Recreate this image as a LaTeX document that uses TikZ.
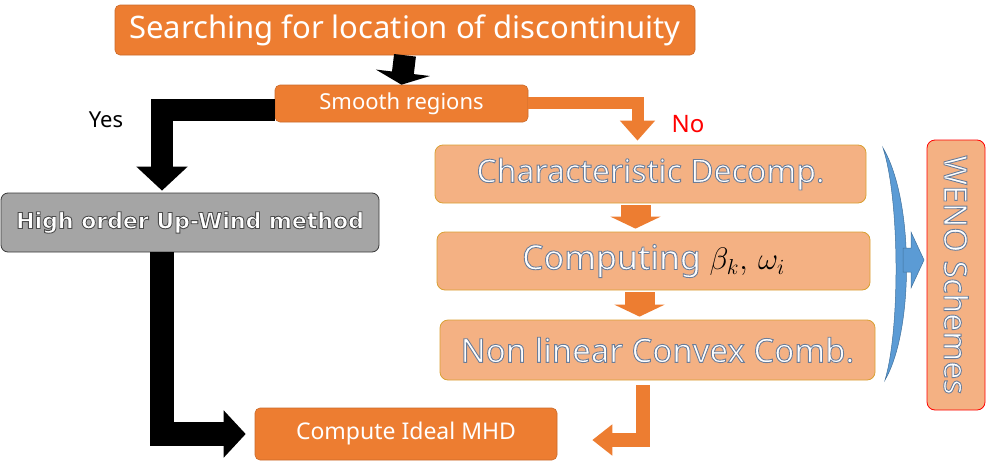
\documentclass[tikz,border=0pt]{standalone}
\usepackage{fontspec}
\setmainfont{Noto Sans}
\newfontfamily\hifont{DejaVu Sans}
\usetikzlibrary{arrows.meta,calc}
\definecolor{dkorange}{HTML}{ED7D31}
\definecolor{ltorange}{HTML}{F4B183}
\definecolor{goldline}{HTML}{D9A033}
\definecolor{grayfill}{HTML}{A5A5A5}
\definecolor{grayline}{HTML}{3A3A3A}
\definecolor{blueA}{HTML}{5B9BD5}
\definecolor{blueB}{HTML}{41719C}
\definecolor{nored}{HTML}{FF0000}
\newcommand{\ol}[1]{\special{pdf:literal direct 0.42 0.49 0.60 RG 0.9 w 2 Tr}#1\special{pdf:literal direct 0 Tr}}
\newcommand{\olg}[1]{\special{pdf:literal direct 0.3 0.3 0.3 RG 0.9 w 2 Tr}#1\special{pdf:literal direct 0 Tr}}
\tikzset{
  darkbox/.style={draw=dkorange!85!black, line width=0.6pt, fill=dkorange, rounded corners=5pt, text=white, inner sep=0pt},
  lightbox/.style={draw=goldline, line width=0.8pt, fill=ltorange, rounded corners=8pt, text=white, inner sep=0pt, minimum height=58pt},
  graybox/.style={draw=grayline, line width=0.8pt, fill=grayfill, rounded corners=7pt, text=white, inner sep=0pt},
  blackarrow/.style={draw=black, line join=miter},
  orangearrow/.style={draw=dkorange, line join=miter},
  bluearrow/.style={fill=blueA, draw=blueB, line width=0.5pt},
}
\begin{document}
\begin{tikzpicture}[x=1pt,y=-1pt]
\useasboundingbox (0,0) rectangle (987,466);
% nodes
\node[darkbox, minimum width=580pt, minimum height=50pt] (top) at (405,30) {\fontsize{31}{34}\selectfont Searching for location of discontinuity};
\node[darkbox, minimum width=253pt, minimum height=37pt] (smooth) at (401.5,103.5) {\fontsize{22}{24}\selectfont Smooth regions};
\node[graybox, minimum width=378pt, minimum height=59pt] (hi) at (190,222.5) {\hifont\fontsize{22}{26}\selectfont\bfseries \olg{High order Up-Wind method}};
\node[darkbox, minimum width=302pt, minimum height=52pt] (mhd) at (406,434) {\fontsize{23}{26}\selectfont Compute Ideal MHD};
\node[lightbox, minimum width=431pt] (char) at (650.5,174) {\fontsize{32}{36}\selectfont \ol{Characteristic Decomp.}};
\node[lightbox, minimum width=433pt] (comp) at (653.5,261) {\fontsize{34}{38}\selectfont \ol{Computing} \textcolor{black}{\scalebox{1.25}{$\beta_{\scriptscriptstyle k},\,\omega_{\scriptscriptstyle i}$}}};
\node[lightbox, minimum width=435pt, minimum height=60pt] (nlc) at (657.5,350) {\fontsize{33}{36}\selectfont \ol{Non linear Convex Comb.}};
\node[lightbox, draw=nored, minimum width=270pt, minimum height=58pt, rotate=-90] (weno) at (956,275) {\fontsize{32}{36}\selectfont \ol{WENO Schemes}};
% labels
\node[text=black, anchor=center] (yes) at (106,120) {\fontsize{22}{24}\selectfont Yes};
\node[text=nored, anchor=center] (no) at (688,124) {\fontsize{24}{26}\selectfont No};
% black arrows
\draw[blackarrow, line width=22pt, -{Triangle[width=54pt,length=12pt]}] (top.south) -- (smooth.north);
\draw[blackarrow, line width=22pt, -{Triangle[width=50pt,length=24pt]}] ([yshift=-6pt]smooth.west) -| ([xshift=-28pt,yshift=2pt]hi.north);
\draw[blackarrow, line width=24pt, shorten >=9pt, -{Triangle[width=46pt,length=22pt]}] ([xshift=-28pt]hi.south) |- (mhd.west);
% orange arrows
\draw[orangearrow, line width=12pt, shorten >=4pt, -{Triangle[width=34pt,length=20pt]}] ([yshift=1pt]smooth.east) -| ([xshift=-13pt]char.north);
\draw[orangearrow, line width=30pt, shorten <=2pt, shorten >=3pt, -{Triangle[width=50pt,length=12pt]}] ([xshift=-15pt]char.south) -- ([xshift=-18pt]comp.north);
\draw[orangearrow, line width=30pt, shorten <=2pt, shorten >=3pt, -{Triangle[width=50pt,length=12pt]}] ([xshift=-14pt]comp.south) -- ([xshift=-18pt]nlc.north);
\draw[orangearrow, line width=14pt, shorten <=5pt, shorten >=35pt, -{Triangle[width=30pt,length=20pt]}] ([xshift=-15pt]nlc.south) |- ([yshift=-6pt]mhd.east);
% blue curved arrow
\coordinate (bt) at (883,148);
\coordinate (bb) at (885,380);
\path[bluearrow] (bt) .. controls (914,200) and (914,330) .. (bb) .. controls (900,330) and (900,200) .. (bt) -- cycle;
\path[bluearrow] (903,248) -- (911,248) -- (911,232) -- (924,260) -- (911,288) -- (911,272) -- (903,272) -- cycle;
\end{tikzpicture}
\end{document}
